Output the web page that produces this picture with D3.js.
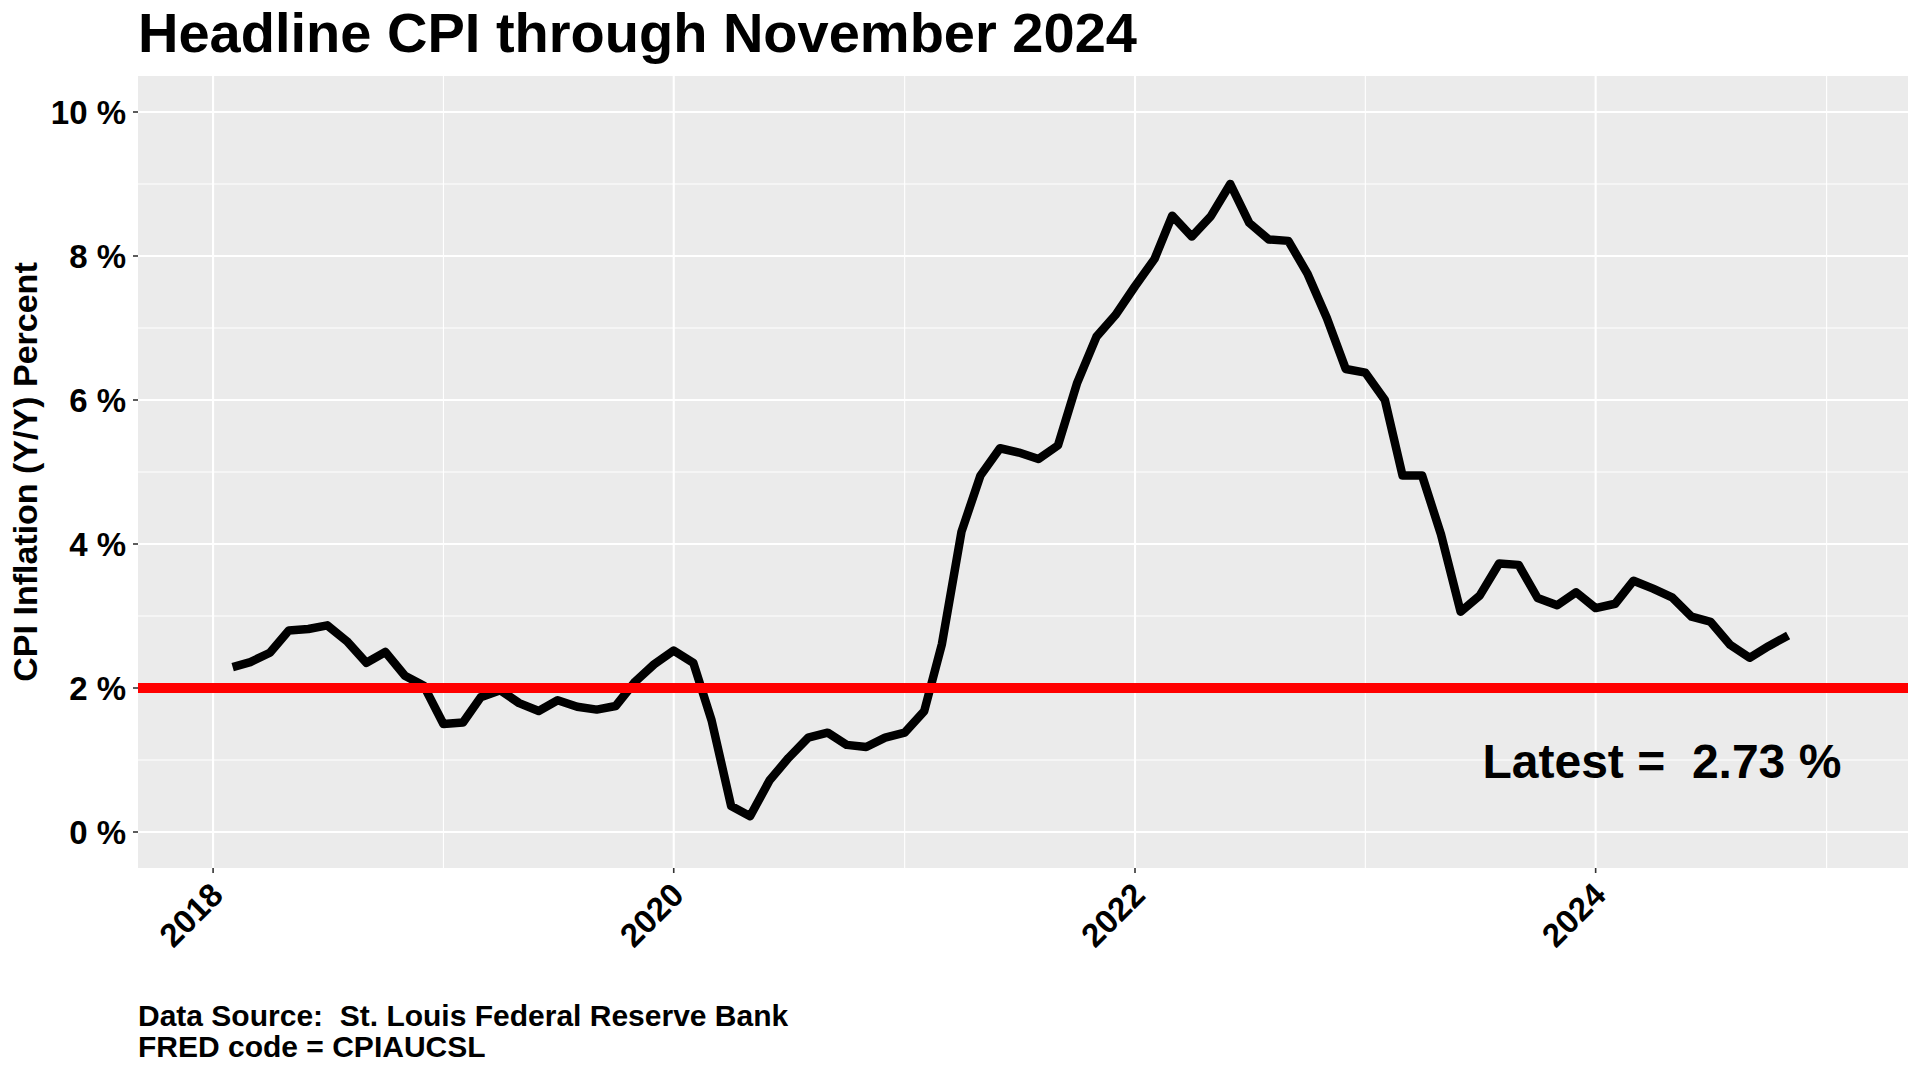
<!DOCTYPE html>
<html>
<head>
<meta charset="utf-8">
<script src="https://cdn.jsdelivr.net/npm/d3@7"></script>
<style>
  html, body { margin: 0; padding: 0; background: #ffffff; }
  svg { display: block; font-family: "Liberation Sans", Arial, sans-serif; font-weight: bold; }
  svg text { white-space: pre; }
</style>
</head>
<body>
<svg id="chart" width="1920" height="1076"></svg>
<script>
// ---- data ----
const months = [
  "2018-02","2018-03","2018-04","2018-05","2018-06","2018-07","2018-08","2018-09","2018-10","2018-11","2018-12",
  "2019-01","2019-02","2019-03","2019-04","2019-05","2019-06","2019-07","2019-08","2019-09","2019-10","2019-11","2019-12",
  "2020-01","2020-02","2020-03","2020-04","2020-05","2020-06","2020-07","2020-08","2020-09","2020-10","2020-11","2020-12",
  "2021-01","2021-02","2021-03","2021-04","2021-05","2021-06","2021-07","2021-08","2021-09","2021-10","2021-11","2021-12",
  "2022-01","2022-02","2022-03","2022-04","2022-05","2022-06","2022-07","2022-08","2022-09","2022-10","2022-11","2022-12",
  "2023-01","2023-02","2023-03","2023-04","2023-05","2023-06","2023-07","2023-08","2023-09","2023-10","2023-11","2023-12",
  "2024-01","2024-02","2024-03","2024-04","2024-05","2024-06","2024-07","2024-08","2024-09","2024-10","2024-11"
];
const cpiYoY = [
  2.29, 2.36, 2.49, 2.80, 2.82, 2.87, 2.65, 2.35, 2.50, 2.17, 2.03,
  1.50, 1.52, 1.87, 1.97, 1.79, 1.68, 1.83, 1.74, 1.70, 1.75, 2.09, 2.33,
  2.52, 2.35, 1.55, 0.36, 0.22, 0.72, 1.03, 1.31, 1.38, 1.21, 1.18, 1.31,
  1.38, 1.68, 2.61, 4.17, 4.95, 5.33, 5.27, 5.18, 5.37, 6.23, 6.88, 7.18,
  7.58, 7.96, 8.56, 8.27, 8.55, 9.00, 8.46, 8.23, 8.21, 7.76, 7.14, 6.43,
  6.38, 6.00, 4.95, 4.95, 4.13, 3.06, 3.28, 3.73, 3.71, 3.25, 3.15, 3.33,
  3.11, 3.17, 3.49, 3.38, 3.26, 2.99, 2.92, 2.60, 2.42, 2.58, 2.73
];
const targetRate = 2;
const yTicks = [0, 2, 4, 6, 8, 10];
const yMinorTicks = [1, 3, 5, 7, 9];
const xTickYears = [2018, 2020, 2022, 2024];
const xMinorYears = [2019, 2021, 2023, 2025];
const titleText = "Headline CPI through November 2024";
const yAxisTitle = "CPI Inflation (Y/Y) Percent";
const captionLines = ["Data Source:  St. Louis Federal Reserve Bank", "FRED code = CPIAUCSL"];
const latestLabel = "Latest =  2.73 %";
const latestLabelPos = { date: "2024-04-15", value: 1.0 };
const xDomain = ["2017-09-04", "2025-05-10"];
const yDomain = [-0.5, 10.5];

// ---- layout ----
const panel = { left: 138, right: 1908, top: 76, bottom: 868 };
const parse = d3.timeParse("%Y-%m-%d");
const parseMonth = d3.timeParse("%Y-%m");
const data = months.map((m, i) => ({ date: parseMonth(m), value: cpiYoY[i] }));

const x = d3.scaleTime().domain(xDomain.map(parse)).range([panel.left, panel.right]);
const y = d3.scaleLinear().domain(yDomain).range([panel.bottom, panel.top]);
const yearDate = yr => new Date(yr, 0, 1);

const svg = d3.select("#chart");

// panel background
svg.append("rect")
  .attr("x", panel.left).attr("y", panel.top)
  .attr("width", panel.right - panel.left).attr("height", panel.bottom - panel.top)
  .attr("fill", "#EBEBEB");

const grid = svg.append("g");
// minor gridlines
grid.selectAll(".hminor").data(yMinorTicks).join("line")
  .attr("x1", panel.left).attr("x2", panel.right)
  .attr("y1", d => y(d)).attr("y2", d => y(d))
  .attr("stroke", "#fff").attr("stroke-width", 1.1);
grid.selectAll(".vminor").data(xMinorYears).join("line")
  .attr("x1", d => x(yearDate(d))).attr("x2", d => x(yearDate(d)))
  .attr("y1", panel.top).attr("y2", panel.bottom)
  .attr("stroke", "#fff").attr("stroke-width", 1.1);
// major gridlines
grid.selectAll(".hmajor").data(yTicks).join("line")
  .attr("x1", panel.left).attr("x2", panel.right)
  .attr("y1", d => y(d)).attr("y2", d => y(d))
  .attr("stroke", "#fff").attr("stroke-width", 2.1);
grid.selectAll(".vmajor").data(xTickYears).join("line")
  .attr("x1", d => x(yearDate(d))).attr("x2", d => x(yearDate(d)))
  .attr("y1", panel.top).attr("y2", panel.bottom)
  .attr("stroke", "#fff").attr("stroke-width", 2.1);

// CPI line
const line = d3.line().x(d => x(d.date)).y(d => y(d.value));
svg.append("path")
  .datum(data)
  .attr("d", line)
  .attr("fill", "none")
  .attr("stroke", "#000")
  .attr("stroke-width", 8.5)
  .attr("stroke-linejoin", "round")
  .attr("stroke-linecap", "butt");

// 2% target line
svg.append("line")
  .attr("x1", panel.left).attr("x2", panel.right)
  .attr("y1", y(targetRate)).attr("y2", y(targetRate))
  .attr("stroke", "#FF0000").attr("stroke-width", 10);

// annotation
svg.append("text")
  .attr("x", x(parse(latestLabelPos.date)))
  .attr("y", y(latestLabelPos.value) + 17.5)
  .attr("text-anchor", "middle")
  .attr("font-size", 48)
  .attr("fill", "#000")
  .text(latestLabel);

// y axis
const yAxis = svg.append("g");
yAxis.selectAll(".tick").data(yTicks).join("line")
  .attr("x1", panel.left - 5).attr("x2", panel.left)
  .attr("y1", d => y(d)).attr("y2", d => y(d))
  .attr("stroke", "#333").attr("stroke-width", 1.6);
yAxis.selectAll(".lbl").data(yTicks).join("text")
  .attr("x", panel.left - 12)
  .attr("y", d => y(d) + 12)
  .attr("text-anchor", "end")
  .attr("font-size", 33)
  .attr("fill", "#000")
  .text(d => d + " %");

// x axis
const xAxis = svg.append("g");
xAxis.selectAll(".tick").data(xTickYears).join("line")
  .attr("x1", d => x(yearDate(d))).attr("x2", d => x(yearDate(d)))
  .attr("y1", panel.bottom).attr("y2", panel.bottom + 5)
  .attr("stroke", "#333").attr("stroke-width", 1.6);
xAxis.selectAll(".lbl").data(xTickYears).join("text")
  .attr("transform", d => `translate(${x(yearDate(d)) + 12},${panel.bottom + 29}) rotate(-45)`)
  .attr("text-anchor", "end")
  .attr("font-size", 33)
  .attr("fill", "#000")
  .text(d => String(d));

// y axis title
svg.append("text")
  .attr("transform", `translate(37,${(panel.top + panel.bottom) / 2}) rotate(-90)`)
  .attr("text-anchor", "middle")
  .attr("font-size", 34)
  .attr("fill", "#000")
  .text(yAxisTitle);

// title
svg.append("text")
  .attr("x", 138).attr("y", 51.5)
  .attr("font-size", 56)
  .attr("fill", "#000")
  .text(titleText);

// caption
svg.append("g").selectAll("text").data(captionLines).join("text")
  .attr("x", 138)
  .attr("y", (d, i) => 1026 + i * 31)
  .attr("font-size", 30)
  .attr("fill", "#000")
  .text(d => d);
</script>
</body>
</html>
